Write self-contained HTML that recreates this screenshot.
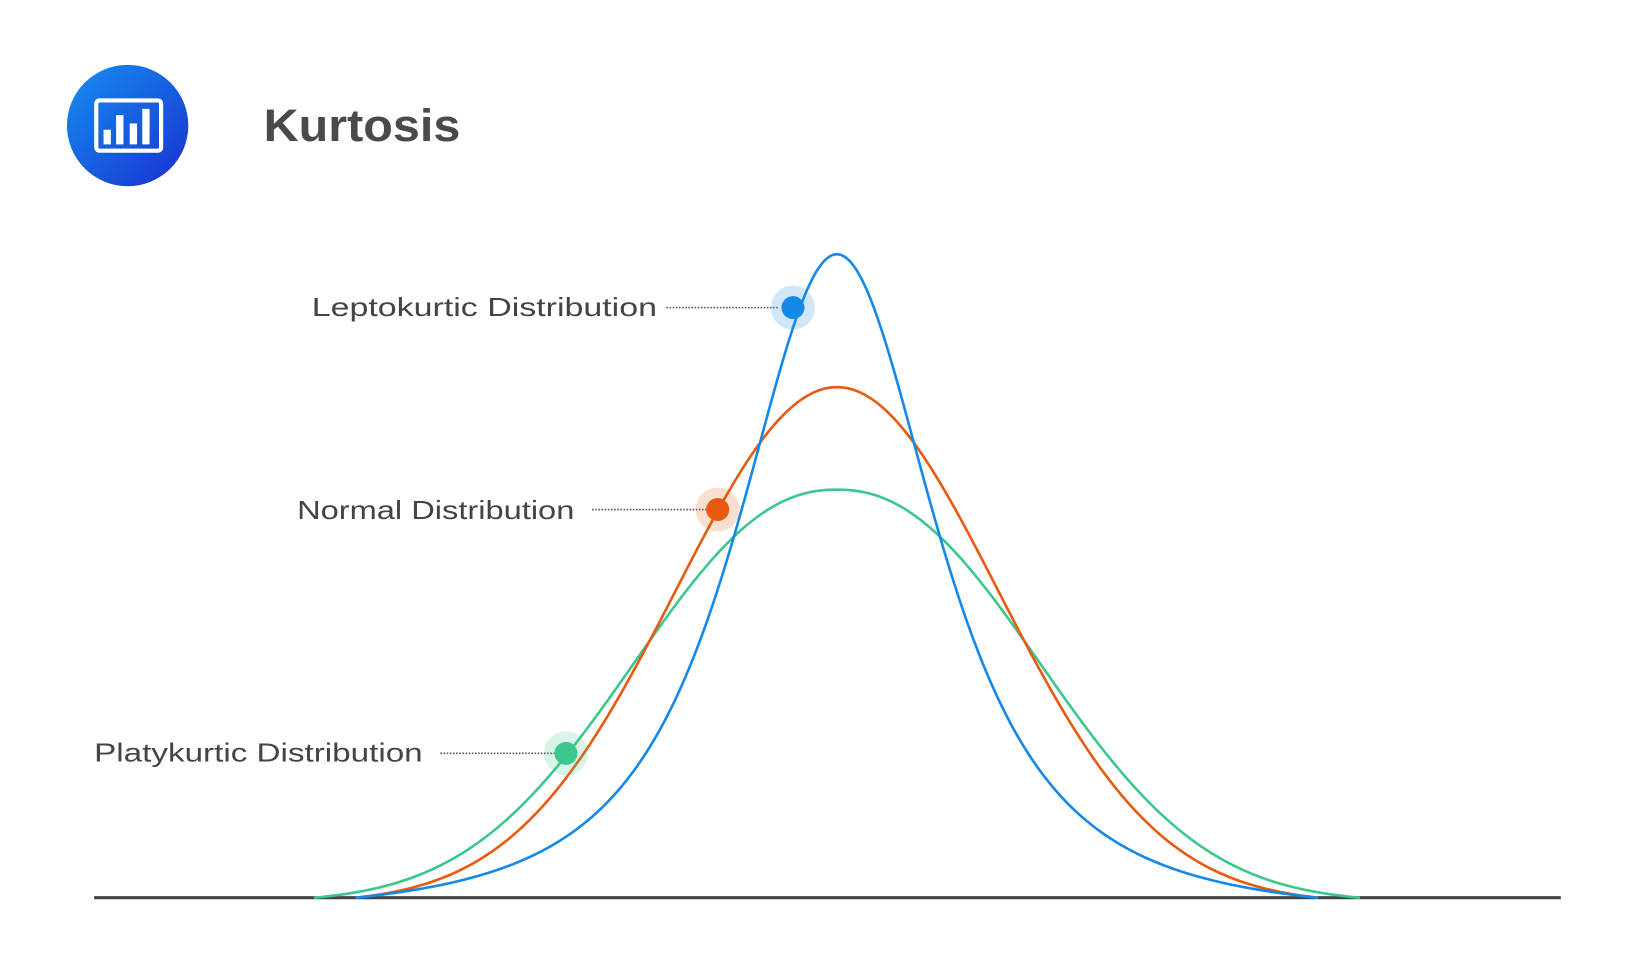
<!DOCTYPE html>
<html><head><meta charset="utf-8"><style>
html,body{margin:0;padding:0;background:#fff;}
svg{display:block;}
text{font-family:"Liberation Sans",sans-serif;}
</style></head><body>
<svg id="s" width="1632" height="972" viewBox="0 0 1560 929" preserveAspectRatio="none">
<defs><linearGradient id="g" x1="0" y1="0" x2="1" y2="1"><stop offset="0" stop-color="#1490f0"/><stop offset="1" stop-color="#1a2fd0"/></linearGradient></defs>
<rect width="1560" height="929" fill="#fff"/>
<circle cx="122" cy="120" r="58" fill="url(#g)"/>
<rect x="92" y="96" width="62" height="48" rx="3" fill="none" stroke="#fff" stroke-width="4"/>
<rect x="99" y="124" width="7" height="14" fill="#fff"/>
<rect x="111" y="110" width="7" height="28" fill="#fff"/>
<rect x="124" y="118" width="7" height="20" fill="#fff"/>
<rect x="136" y="104" width="7" height="34" fill="#fff"/>
<text x="252" y="135" font-size="43" font-weight="bold" fill="#4a4a4a" textLength="188" lengthAdjust="spacingAndGlyphs">Kurtosis</text>
<line x1="90" y1="858" x2="1492" y2="858" stroke="#444" stroke-width="3"/>
<path id="pg" fill="none" stroke="#3cc88c" stroke-width="2.5"/>
<path id="po" fill="none" stroke="#e85a10" stroke-width="2.5"/>
<path id="pb" fill="none" stroke="#1588e8" stroke-width="2.5"/>
<g font-size="25" fill="#444">
<text x="298" y="302" textLength="330" lengthAdjust="spacingAndGlyphs">Leptokurtic  Distribution</text>
<text x="284" y="496" textLength="265" lengthAdjust="spacingAndGlyphs">Normal  Distribution</text>
<text x="90" y="728" textLength="314" lengthAdjust="spacingAndGlyphs">Platykurtic Distribution</text>
</g>
<g stroke="#555" stroke-width="1.5" stroke-dasharray="1.5 1.5">
<line x1="637" y1="294" x2="745" y2="294"/>
<line x1="566" y1="487" x2="675" y2="487"/>
<line x1="421" y1="720" x2="530" y2="720"/>
</g>
<circle cx="758" cy="294" r="21" fill="#1588e8" opacity="0.2"/>
<circle cx="758" cy="294" r="11" fill="#1588e8"/>
<circle cx="686" cy="487" r="21" fill="#e85a10" opacity="0.2"/>
<circle cx="686" cy="487" r="11" fill="#e85a10"/>
<circle cx="541" cy="720" r="21" fill="#3cc88c" opacity="0.2"/>
<circle cx="541" cy="720" r="11" fill="#3cc88c"/>
</svg>
<script>
function mk(id,x0,x1,f){var d="";for(var x=x0;x<=x1;x+=2){var y=858-f(x-800);d+=(x==x0?"M":"L")+x+" "+y.toFixed(2);}document.getElementById(id).setAttribute("d",d);}
function gp(d){return Math.exp(-Math.pow(Math.abs(d)/255,2.22));}
var gg0=gp(500);
mk("pg",300,1300,function(d){return 390*(gp(d)-gg0)/(1-gg0);});
var go0=Math.exp(-460*460/(2*154*154));
mk("po",340,1260,function(d){return 488*(Math.exp(-d*d/(2*154*154))-go0)/(1-go0);});
function t(d){return Math.pow(1+(d/147)*(d/147),-1.5);}
var gb0=t(460);
mk("pb",340,1260,function(d){return 615*(t(d)-gb0)/(1-gb0);});
</script>
</body></html>
